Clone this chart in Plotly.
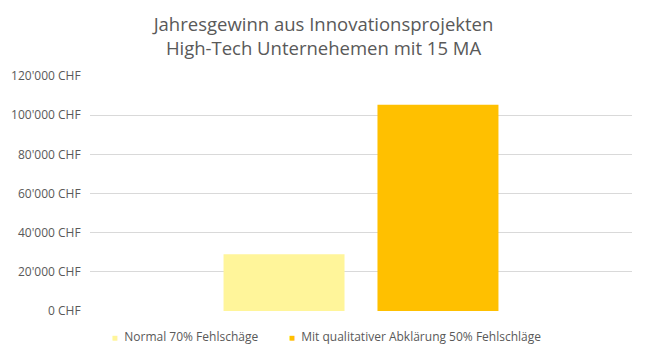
import plotly.graph_objects as go

categories = ["Jahresgewinn"]
series_names = ["Normal 70% Fehlschäge", "Mit qualitativer Abklärung 50% Fehlschläge"]
series_values = [[29000], [105300]]
series_colors = ["#FFF59A", "#FFC000"]
tick_values = [0, 20000, 40000, 60000, 80000, 100000, 120000]
tick_labels = ["0 CHF", "20'000 CHF", "40'000 CHF", "60'000 CHF", "80'000 CHF",
               "100'000 CHF", "120'000 CHF"]
legend_x = [0.036, 0.364]   # paper x of legend entries

fig = go.Figure()
for name, vals, col in zip(series_names, series_values, series_colors):
    fig.add_trace(go.Bar(x=categories, y=vals, name=name, marker_color=col,
                         marker_line_width=0, showlegend=False))

for name, col, lx in zip(series_names, series_colors, legend_x):
    fig.add_annotation(
        xref="paper", yref="paper", x=lx, y=-0.11, xanchor="left", yanchor="middle",
        showarrow=False,
        text=f"<span style='color:{col}; font-size:10px'>■</span>  {name}",
        font=dict(size=12, color="#595959", family="Open Sans"),
    )

fig.update_layout(
    width=647, height=359,
    paper_bgcolor="white", plot_bgcolor="white",
    font=dict(family="Open Sans", color="#595959", size=12),
    title=dict(text="Jahresgewinn aus Innovationsprojekten<br>High-Tech Unternehemen mit 15 MA",
               x=0.5, xanchor="center", xref="container", yref="container",
               y=1 - 31 / 359, yanchor="middle",
               font=dict(size=18.5, color="#595959")),
    margin=dict(l=90, r=15, t=76, b=48),
    barmode="group", bargap=0.432, bargroupgap=0.214,
    showlegend=False,
)
fig.update_xaxes(showticklabels=False, showgrid=False, zeroline=False,
                 showline=False, range=[-0.5, 0.5])
fig.update_yaxes(range=[0, 120000], tickvals=tick_values, ticktext=tick_labels,
                 showgrid=True, gridcolor="#D9D9D9",
                 gridwidth=1, zeroline=False, showline=False,
                 ticks="outside", ticklen=6, tickcolor="rgba(0,0,0,0)",
                 tickfont=dict(size=12, color="#595959"))

fig.write_html("out.html", config={"displayModeBar": False},
               post_script="document.body.style.margin='0';document.body.style.overflow='hidden';")
